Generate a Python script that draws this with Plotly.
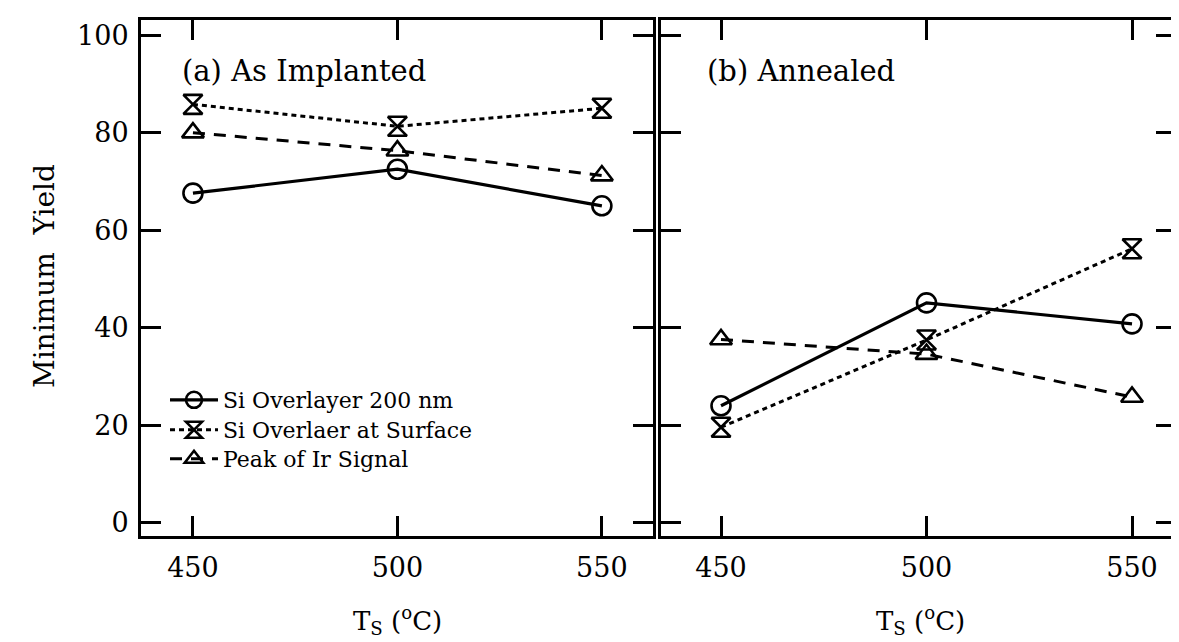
import plotly.graph_objects as go
from plotly.subplots import make_subplots

temps = [450, 500, 550]
series_names = ["Si Overlayer 200 nm", "Si Overlaer at Surface", "Peak of Ir Signal"]
# (a) As Implanted
a_overlayer = [67.6, 72.5, 65.0]
a_surface = [85.8, 81.3, 85.0]
a_ir_peak = [80.0, 76.3, 71.2]
# (b) Annealed
b_overlayer = [24.0, 45.1, 40.8]
b_surface = [19.6, 37.5, 56.2]
b_ir_peak = [37.6, 34.6, 25.8]

panel_titles = ["(a) As Implanted", "(b) Annealed"]
y_ticks = [0, 20, 40, 60, 80, 100]
x_ticks = [450, 500, 550]

FONT = "DejaVu Serif"
W, H = 1179, 642
ML, MR, MT, MB = 133, 11, 12, 114
plot_w = W - ML - MR
plot_h = H - MT - MB

styles = [
    dict(symbol="circle-open", dash="solid", lw=3.2),
    dict(symbol="hourglass-open", dash="5px,4px", lw=3),
    dict(symbol="triangle-up-open", dash="12px,9px", lw=3),
]
legend_ids = ["legend", "legend2", "legend3"]
legend_rows_px = [392, 422, 451]

fig = make_subplots(rows=1, cols=2, shared_yaxes=False, horizontal_spacing=0.0)

panels = [(a_overlayer, a_surface, a_ir_peak), (b_overlayer, b_surface, b_ir_peak)]
for col, data in enumerate(panels, start=1):
    for i, (vals, st) in enumerate(zip(data, styles)):
        fig.add_trace(go.Scatter(
            x=temps, y=vals, mode="lines+markers", name=series_names[i],
            showlegend=(col == 1), legend=legend_ids[i],
            line=dict(color="black", width=st["lw"], dash=st["dash"]),
            marker=dict(symbol=st["symbol"], size=19, color="black",
                        line=dict(color="black", width=2.6)),
        ), row=1, col=col)

dom1 = [0, (645 - ML) / plot_w]
dom2 = [(653 - ML) / plot_w, 1]

axis_common = dict(showline=True, linewidth=3, linecolor="black", mirror="ticks",
                   ticks="inside", ticklen=20, tickwidth=3, tickcolor="black",
                   showgrid=False, zeroline=False, automargin=False,
                   tickfont=dict(family=FONT, size=27, color="black"))

legend_common = dict(xanchor="left", yanchor="middle", bgcolor="rgba(0,0,0,0)",
                     font=dict(family=FONT, size=22, color="black"), itemwidth=48)

layout_legends = {}
for lid, ypx in zip(legend_ids, legend_rows_px):
    layout_legends[lid] = dict(x=(157 - ML) / plot_w, y=(528 - ypx) / plot_h, **legend_common)

fig.update_layout(
    width=W, height=H, margin=dict(l=ML, r=MR, t=MT, b=MB, autoexpand=False),
    paper_bgcolor="white", plot_bgcolor="white",
    font=dict(family=FONT, color="black"),
    xaxis=dict(domain=dom1, range=[437.3, 562.5], tickvals=x_ticks, ticklabelstandoff=6, **axis_common),
    xaxis2=dict(domain=dom2, range=[435.4, 560.7], tickvals=x_ticks, ticklabelstandoff=6, **axis_common),
    yaxis=dict(range=[-2.7, 103.1], tickvals=y_ticks, ticklabelstandoff=4, **axis_common),
    yaxis2=dict(range=[-2.7, 103.1], tickvals=y_ticks, showticklabels=False, anchor="x2", **axis_common),
    showlegend=True,
    **layout_legends,
)

ann = []
ann.append(dict(text=panel_titles[0], x=(172 - ML) / plot_w, y=(528 - 63) / plot_h,
                xref="paper", yref="paper", xanchor="left", yanchor="middle", showarrow=False,
                font=dict(family=FONT, size=29, color="black")))
ann.append(dict(text=panel_titles[1], x=(697 - ML) / plot_w, y=(528 - 63) / plot_h,
                xref="paper", yref="paper", xanchor="left", yanchor="middle", showarrow=False,
                font=dict(family=FONT, size=29, color="black")))
for cx in [389, 912]:
    ann.append(dict(text="T<sub>S</sub> (<sup>o</sup>C)", x=(cx - ML) / plot_w, y=(528 - 612) / plot_h,
                    xref="paper", yref="paper", xanchor="center", yanchor="middle", showarrow=False,
                    font=dict(family=FONT, size=26, color="black")))
ann.append(dict(text="Minimum  Yield", x=(36 - ML) / plot_w, y=(528 - 268) / plot_h,
                xref="paper", yref="paper", xanchor="center", yanchor="middle", showarrow=False,
                textangle=-90, font=dict(family=FONT, size=28, color="black")))
fig.update_layout(annotations=ann)

fig.write_html("out.html")
